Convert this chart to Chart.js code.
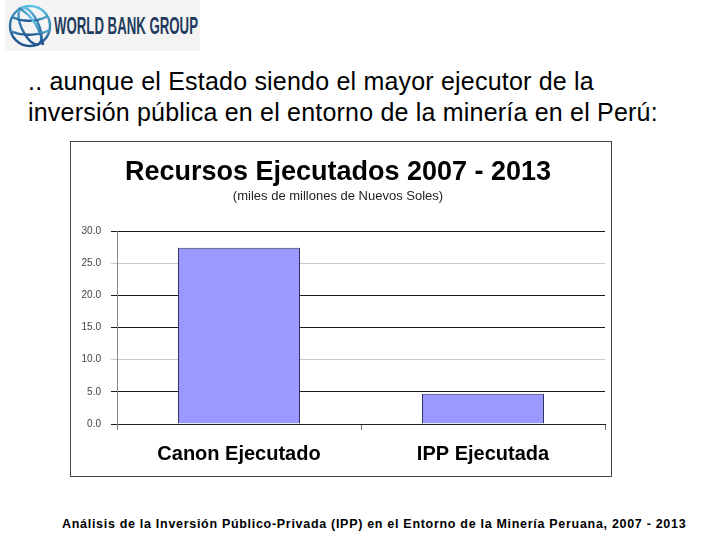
<!DOCTYPE html>
<html>
<head>
<meta charset="utf-8">
<script src="https://cdn.jsdelivr.net/npm/chart.js@4"></script>
<style>
  body { margin: 0; width: 720px; height: 540px; background: #fff; position: relative; overflow: hidden; font-family: "Liberation Sans", Arial, sans-serif; }
  #logo { position: absolute; left: 5px; top: 0; }
  #heading { position: absolute; left: 28px; top: 66px; font-size: 25px; line-height: 31px; color: #000; letter-spacing: 0.2px; white-space: nowrap; }
  #box { position: absolute; left: 70px; top: 141px; width: 540px; height: 334px; border: 1px solid #444; }
  #footer { position: absolute; left: 62px; top: 517px; font-size: 12.5px; font-weight: bold; color: #000; white-space: nowrap; letter-spacing: 0.7px; }
</style>
</head>
<body>
<svg id="logo" width="195" height="51">
  <defs>
    <radialGradient id="gl" cx="0.6" cy="0.15" r="0.9">
      <stop offset="0" stop-color="#6ad8f7"/>
      <stop offset="1" stop-color="#1c4f8a"/>
    </radialGradient>
  </defs>
  <rect x="0" y="0" width="195" height="51" fill="#f4f4f4"/>
  <g fill="none" stroke="url(#gl)" stroke-width="2.4">
    <circle cx="25" cy="26" r="20"/>
    <ellipse cx="25" cy="26" rx="8.5" ry="20" transform="rotate(-25 25 26)"/>
    <path d="M7 17 Q25 25 43 16"/>
    <path d="M5 31 Q25 39 45 30"/>
    <path d="M14 8 Q34 20 38 45"/>
  </g>
  <text x="49" y="34" font-family="Liberation Sans Narrow, Liberation Sans, Arial" font-weight="bold" font-size="24" fill="#1f3b5e" textLength="144" lengthAdjust="spacingAndGlyphs">WORLD BANK GROUP</text>
</svg>

<div id="heading">.. aunque el Estado siendo el mayor ejecutor de la<br>inversión pública en el entorno de la minería en el Perú:</div>

<div id="box"><canvas id="chart" width="540" height="334"></canvas></div>

<div id="footer">Análisis de la Inversión Público-Privada (IPP) en el Entorno de la Minería Peruana, 2007 - 2013</div>

<script>
// datos
var categorias = ['Canon Ejecutado', 'IPP Ejecutada'];
var recursos = [27.4, 4.7];
var yTicks = [0, 5, 10, 15, 20, 25, 30];
var lightLines = [10, 25];

var ctx = document.getElementById('chart').getContext('2d');
var chart = new Chart(ctx, {
    type: 'bar',
    data: {
        labels: categorias,
        datasets: [{
            data: recursos,
            backgroundColor: '#9999ff',
            borderColor: '#333366',
            borderWidth: 1,
            barPercentage: 0.5,
            categoryPercentage: 1.0
        }]
    },
    options: {
        responsive: false,
        animation: false,
        layout: { padding: { left: 0, right: 6, top: 0, bottom: 0 } },
        plugins: {
            legend: { display: false },
            tooltip: { enabled: false },
            title: {
                display: true,
                text: 'Recursos Ejecutados 2007 - 2013',
                color: '#000',
                font: { family: 'Liberation Sans, Arial', size: 27, weight: 'bold' },
                padding: { top: 14, bottom: 0 }
            },
            subtitle: {
                display: true,
                text: '(miles de millones de Nuevos Soles)',
                color: '#222',
                font: { family: 'Liberation Sans, Arial', size: 13 },
                padding: { top: 0, bottom: 27 }
            }
        },
        scales: {
            x: {
                grid: {
                    offset: true,
                    drawOnChartArea: false,
                    color: '#777',
                    tickLength: 6
                },
                border: { display: true, color: '#222' },
                ticks: {
                    color: '#000',
                    padding: 12,
                    font: { family: 'Liberation Sans, Arial', size: 20, weight: 'bold' }
                },
                afterFit: function (s) { s.height = 52; }
            },
            y: {
                min: 0,
                max: 30,
                afterBuildTicks: function (s) { s.ticks = yTicks.map(function (v) { return { value: v }; }); },
                grid: {
                    color: function (c) { return lightLines.indexOf(c.tick.value) >= 0 ? '#c8c8c8' : '#1a1a1a'; },
                    tickLength: 6
                },
                border: { display: true, color: '#888' },
                ticks: {
                    color: '#444',
                    padding: 10,
                    font: { family: 'Liberation Sans, Arial', size: 10 },
                    callback: function (v) { return v.toFixed(1); }
                },
                afterFit: function (s) { s.width = 46; }
            }
        }
    }
});
</script>
</body>
</html>
